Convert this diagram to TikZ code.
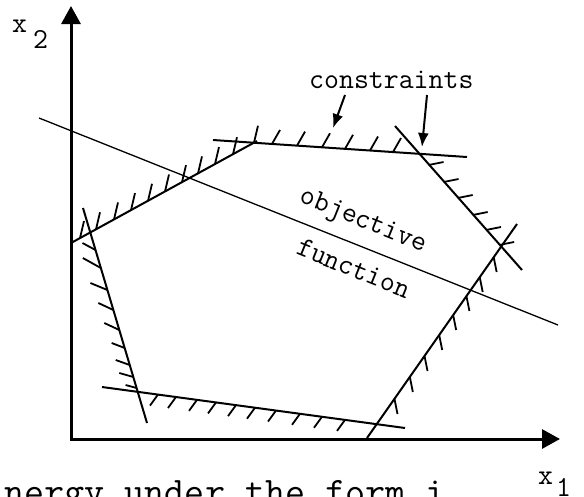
\documentclass[tikz,border=0pt]{standalone}
\usepackage{fontspec}
\usetikzlibrary{arrows.meta,calc}
\begin{document}
\begin{tikzpicture}[x=1pt,y=-1pt,
  axis/.style={line width=3pt,line join=miter,{Triangle[length=18pt,width=19pt]}-{Triangle[length=18pt,width=19pt]}},
  cline/.style={line width=2pt},
  hatch/.style={line width=1.8pt},
  objline/.style={line width=1.3pt},
  callout/.style={line width=2pt,-{Latex[length=14pt,width=11pt]}},
  lbl/.style={inner sep=0pt,font=\fontsize{29}{34}\selectfont\ttfamily},
  bigtxt/.style={inner sep=0pt,font=\fontsize{39}{44}\selectfont\ttfamily}
]
\useasboundingbox (0,0) rectangle (584,496);
% axes
\coordinate (Ytip) at (71,6);
\coordinate (O) at (71,439);
\coordinate (Xtip) at (560,439);
\draw[axis] (Ytip) -- (O) -- (Xtip);
% constraint lines
\coordinate (A1) at (71,243);  \coordinate (A2) at (257,141);
\coordinate (T1) at (213,140); \coordinate (T2) at (467,157);
\coordinate (B1) at (395,126); \coordinate (B2) at (522,270);
\coordinate (C1) at (517,224); \coordinate (C2) at (367,438);
\coordinate (D1) at (102,387); \coordinate (D2) at (405,428);
\coordinate (E1) at (83,208);  \coordinate (E2) at (147,423);
\draw[cline] (A1) -- (A2);
\draw[cline] (T1) -- (T2);
\draw[cline] (B1) -- (B2);
\draw[cline] (C1) -- (C2);
\draw[cline] (D1) -- (D2);
\draw[cline] (E1) -- (E2);
% objective function
\coordinate (F1) at (39,118); \coordinate (F2) at (558,325);
\draw[objline] (F1) -- (F2);
% hatches
\foreach \x in {80,96,114,131,148,165,182,198,215,233,254}
  \draw[hatch] (\x,{243-0.548*(\x-71)}) -- ++(4,-17);
\foreach \x in {272,297,322,345,370,393}
  \draw[hatch] (\x,{140+0.0669*(\x-213)}) -- ++(8,-14);
\foreach \y in {165,182,198,215,230,245}
  \draw[hatch] ({418+(\y-153)/1.134},\y) -- ++(15,-3);
\foreach \y in {257,277,296,315,335,356,377,399}
  \draw[hatch] ({516-(\y-225)/1.432},\y) -- ++(3,15);
\foreach \x in {158,176,197,216,236,255,276,300,322,345}
  \draw[hatch] (\x,{387+0.1353*(\x-102)}) -- ++(-8,11);
\foreach \y/\dx/\dy in {250/-13/-7,268/-18/-10,290/-17/-7,310/-15/-7,330/-15/-7,348/-13/-5,365/-14/-5,377/-14/-4,388/-11/-3}
  \draw[hatch] ({83+0.2977*(\y-208)},\y) -- ++(\dx,\dy);
% labels
\node[lbl,anchor=base west] (cons) at (309,88) {constraints};
\coordinate (k1s) at (345,95); \coordinate (k1e) at (333,128);
\coordinate (k2s) at (427,95); \coordinate (k2e) at (422,147);
\draw[callout] (k1s) -- (k1e);
\draw[callout] (k2s) -- (k2e);
\node[lbl,rotate=-22] (obj) at (363,222) {objective};
\node[lbl,rotate=-22] (fun) at (354,268) {function};
\node[lbl,anchor=base west] (x2) at (12,32) {x};
\node[lbl,anchor=base west] (x2s) at (33,48) {2};
\node[lbl,anchor=base west] (x1) at (538,484) {x};
\node[lbl,anchor=base west] (x1s) at (556,496) {1};
\node[bigtxt,anchor=base west] (bot) at (4,504) {nergy under the form i};
\end{tikzpicture}
\end{document}
